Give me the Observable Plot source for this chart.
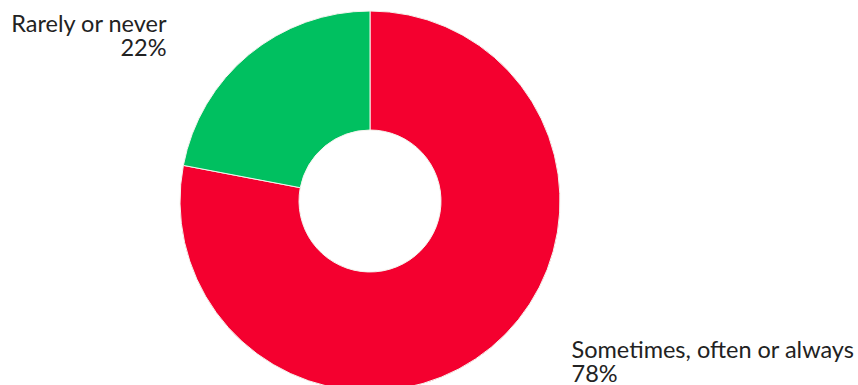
<!DOCTYPE html>
<html>
<head>
<meta charset="utf-8">
<script src="https://cdn.jsdelivr.net/npm/d3@7"></script>
<script src="https://cdn.jsdelivr.net/npm/@observablehq/plot@0.6"></script>
<style>
  html, body { margin: 0; padding: 0; background: #fff; }
</style>
</head>
<body>
<div id="chart"></div>
<script>
// Data
const categories = ["Sometimes, often or always", "Rarely or never"];
const values = [78, 22];
const valueLabels = ["78%", "22%"];
const colors = ["#f4002f", "#00c060"];

// Layout
const W = 858, H = 385;
const cx = 370, cy = 201, outerR = 190, innerR = 71;

const slices = categories.map((c, i) => ({category: c, value: values[i], label: valueLabels[i]}));
// Red slice starts at 12 o'clock clockwise; green fills the rest
const pie = d3.pie().value(d => d.value).sort(null);
const arcs = pie(slices);
const arcGen = d3.arc().innerRadius(innerR).outerRadius(outerR);

const donutMark = (index, scales, values_, dimensions) => {
  const g = d3.create("svg:g");
  g.selectAll("path")
    .data(arcs)
    .join("path")
    .attr("transform", `translate(${cx},${cy})`)
    .attr("d", arcGen)
    .attr("fill", (d, i) => colors[i])
    .attr("stroke", "#f4f4ee")
    .attr("stroke-width", 1);
  return g.node();
};

// Label placement (layout): y = top of first line
const labelPos = [
  {x: 571, y: 341, anchor: "start"},
  {x: 166, y: 15, anchor: "end"}
];
const labelData = slices.map((s, i) => ({
  ...s, x: labelPos[i].x, y: labelPos[i].y, anchor: labelPos[i].anchor
}));

const textOpts = {
  x: "x", y: "y",
  text: d => d.category + "\n" + d.label,
  lineAnchor: "top", lineHeight: 1.0,
  fontSize: 23.5, fill: "#222"
};

const plot = Plot.plot({
  width: W,
  height: H,
  margin: 0,
  x: {type: "identity", axis: null},
  y: {type: "identity", axis: null},
  style: {fontFamily: "Lato, sans-serif", background: "#fff"},
  marks: [
    donutMark,
    Plot.text(labelData.filter(d => d.anchor === "start"), {...textOpts, textAnchor: "start"}),
    Plot.text(labelData.filter(d => d.anchor === "end"), {...textOpts, textAnchor: "end"})
  ]
});
document.getElementById("chart").appendChild(plot);
</script>
</body>
</html>
